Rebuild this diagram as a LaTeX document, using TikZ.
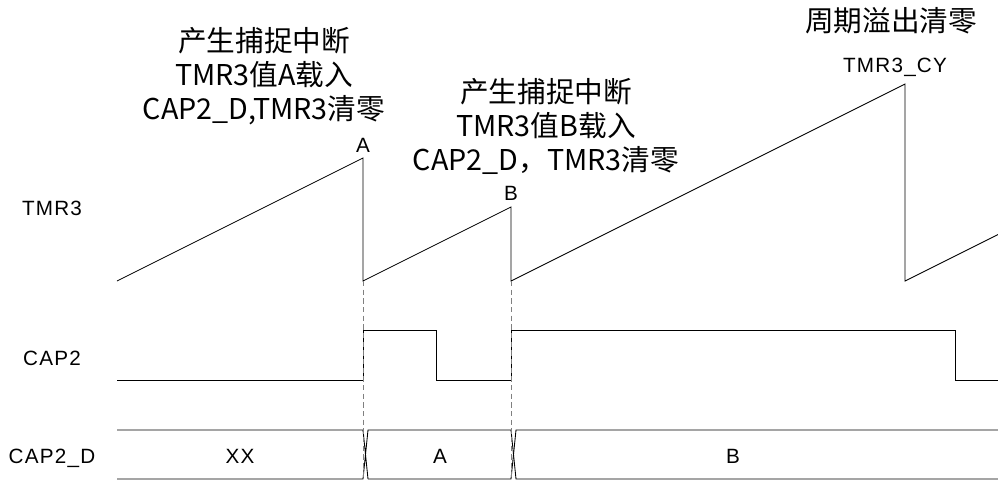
\documentclass[tikz,border=0pt]{standalone}
\usepackage{fontspec}
\setmainfont{Liberation Sans}
\newfontfamily\lblfont[LetterSpace=6]{Liberation Sans}
\newfontfamily\cjk{Noto Sans CJK SC}
\usepackage{tikz}
\usetikzlibrary{positioning}

\begin{document}
\begin{tikzpicture}[x=0.75pt, y=-0.75pt,
    wave/.style={black, line width=0.65pt},
    guide/.style={gray, line width=0.65pt, dash pattern=on 4pt off 2.5pt},
    lbl/.style={font=\lblfont\fontsize{15.5pt}{18pt}\selectfont, anchor=base, inner sep=0pt},
    note/.style={font=\cjk\fontsize{21.5pt}{25.5pt}\selectfont, align=center, inner sep=0pt}]
				    		\useasboundingbox (0,0) rectangle (998,480);
				    		\coordinate (t0) at (117,281);
				    		\coordinate (pA) at (363,158);
				    		\coordinate (dA) at (363,281);
				    		\coordinate (pB) at (511,207);
				    		\coordinate (dB) at (511,281);
				    		\coordinate (pC) at (905,84);
				    		\coordinate (dC) at (905,281);
				    		\coordinate (t1) at (998,234.5);
				    		\draw[wave] (t0)--(pA)--(dA)--(pB)--(dB)--(pC)--(dC)--(t1);
				    		\draw[wave] (117,380)--(363,380)--(363,330)--(436,330)--(436,380)--(511,380)--(511,330)--(955,330)--(955,380)--(998,380);
				    		\draw[wave] (117,430)--(363,430)--(368,479) (117,479)--(363,479)--(368,430)--(511,430)--(516,479)--(998,479);
				    		\draw[wave] (368,479)--(511,479)--(516,430)--(998,430);
				    		\coordinate (bA) at (363,479);
				    		\coordinate (bB) at (511,479);
				    		\draw[guide] (dA)--(bA);
				    		\draw[guide] (dB)--(bB);
							\node[lbl] (lblTMR) at (52,215) {TMR3};
							\node[lbl] (lblCAP) at (52,365) {CAP2};
							\node[lbl] (lblCAPD) at (52,463) {CAP2\_D};
							\node[lbl] (busXX) at (240,463) {XX};
							\node[lbl] (busA) at (440,463) {A};
							\node[lbl] (busB) at (733,463) {B};
							\node[lbl] (topA) at (363,152) {A};
							\node[lbl] (topB) at (511,200) {B};
							\node[lbl] (topCY) at (895,72) {TMR3\_CY};
							\node[note] (noteA) at (264,76) {产生捕捉中断\\TMR3值A载入\\CAP2\_D,TMR3清零};
							\node[note] (noteB) at (546,126) {产生捕捉中断\\TMR3值B载入\\CAP2\_D，TMR3清零};
							\node[note] (noteCY) at (891,21) {周期溢出清零};
				    	\end{tikzpicture}
\end{document}
